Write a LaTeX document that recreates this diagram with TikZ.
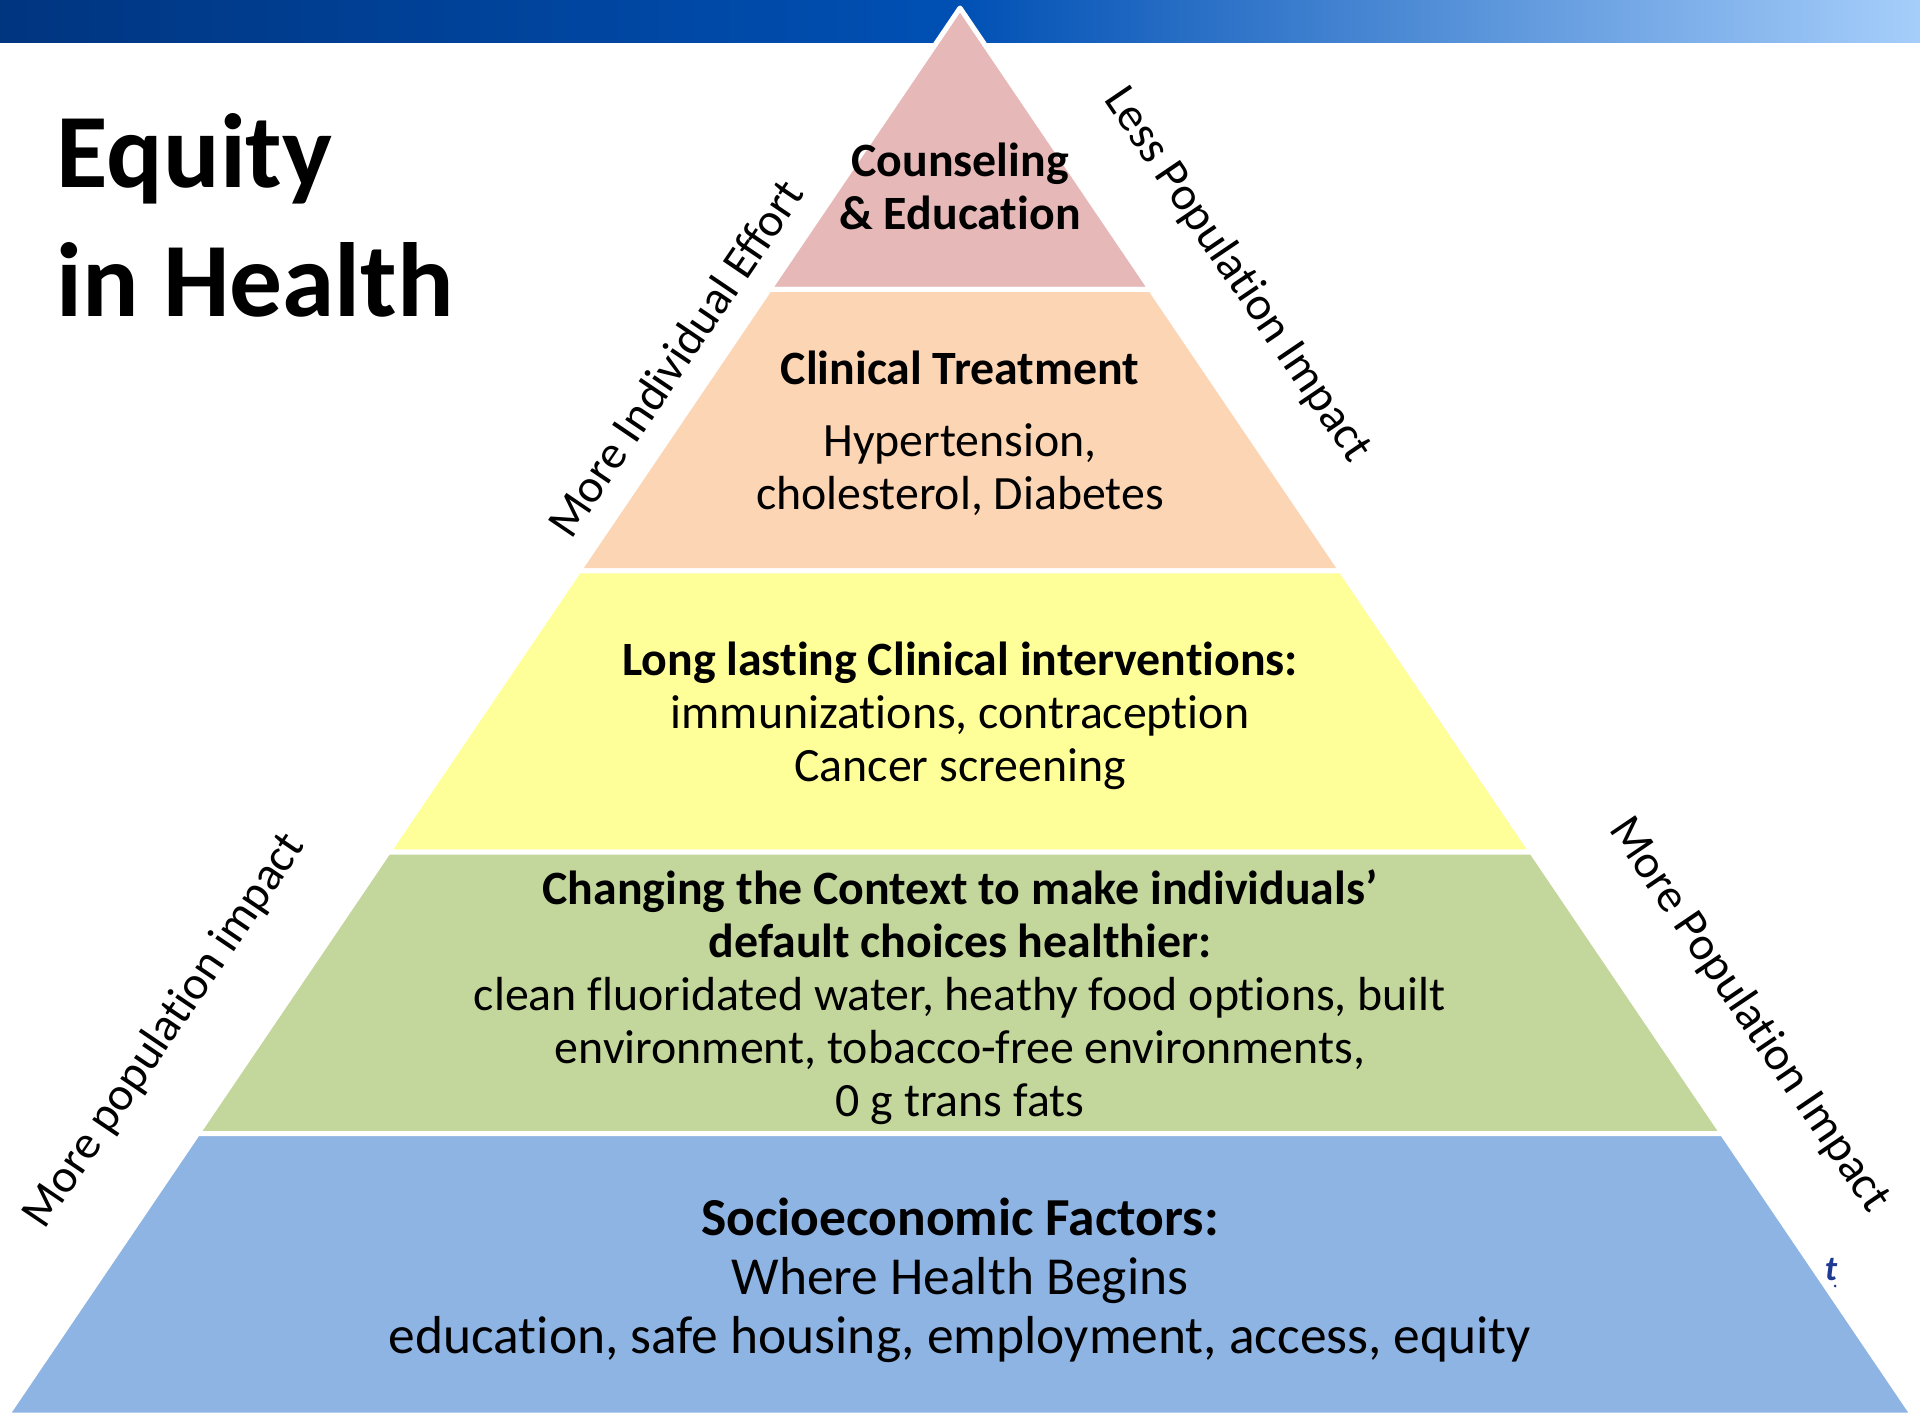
\documentclass[tikz,border=0pt]{standalone}
\usepackage{fontspec}
\setmainfont{Carlito}[Ligatures={NoCommon}]
\definecolor{pinkL}{HTML}{E6B9B8}
\definecolor{orangeL}{HTML}{FCD5B5}
\definecolor{yellowL}{HTML}{FFFF99}
\definecolor{greenL}{HTML}{C3D69B}
\definecolor{blueL}{HTML}{8EB4E3}
\definecolor{barL}{HTML}{003580}
\definecolor{barM}{HTML}{0050B4}
\definecolor{barR}{HTML}{A6CEFB}
\definecolor{glyphblue}{HTML}{1F3A93}
\tikzset{
  layer/.style={draw=white, line width=5pt*0.2845, line join=round},
  midtext/.style={align=center, font=\fontsize{13.6}{15.1}\selectfont, inner sep=0pt},
  bottext/.style={align=center, font=\fontsize{15.2}{16.8}\selectfont, inner sep=0pt},
  sidelabel/.style={font=\fontsize{13.4}{15}\selectfont, inner sep=0pt},
}
\begin{document}
\begin{tikzpicture}[x=0.01cm, y=-0.01cm]
\useasboundingbox (0,0) rectangle (1920,1418);
% top bar
\shade[left color=barL, right color=barR, middle color=barM] (0,0) rectangle (1920,42);
% pyramid corner coordinates
\coordinate (A)  at (960,8);
\coordinate (L1) at (769.4,289.4);  \coordinate (R1) at (1150.6,289.4);
\coordinate (L2) at (578.8,570.8);  \coordinate (R2) at (1341.2,570.8);
\coordinate (L3) at (388.2,852.2);  \coordinate (R3) at (1531.8,852.2);
\coordinate (L4) at (197.6,1133.6); \coordinate (R4) at (1722.4,1133.6);
\coordinate (L5) at (7,1415);       \coordinate (R5) at (1913,1415);
% layers
\filldraw[layer, fill=pinkL]   (A) -- (L1) -- (R1) -- cycle;
\filldraw[layer, fill=orangeL] (L1) -- (L2) -- (R2) -- (R1) -- cycle;
\filldraw[layer, fill=yellowL] (L2) -- (L3) -- (R3) -- (R2) -- cycle;
\filldraw[layer, fill=greenL]  (L3) -- (L4) -- (R4) -- (R3) -- cycle;
\filldraw[layer, fill=blueL]   (L4) -- (L5) -- (R5) -- (R4) -- cycle;
% title
\node[anchor=north west, align=left, inner sep=0pt, font=\fontsize{30}{36.6}\selectfont\bfseries]
  (title) at (56,113) {Equity\\in Health};
% layer texts
\node[midtext, font=\fontsize{13.6}{15.1}\selectfont\bfseries] (t1) at (960,186) {Counseling\\\& Education};
\node[midtext, font=\fontsize{13.6}{15.1}\selectfont\bfseries] (t2a) at (960,368) {Clinical Treatment};
\node[midtext] (t2b) at (960,470) {Hypertension,\\cholesterol, Diabetes};
\node[midtext] (t3) at (960,716) {\textbf{Long lasting Clinical interventions:}\\immunizations, contraception\\Cancer screening};
\node[midtext] (t4) at (960,997) {\textbf{Changing the Context to make individuals’}\\\textbf{default choices healthier:}\\clean fluoridated water, heathy food options, built\\environment, tobacco-free environments,\\0 g trans fats};
\node[bottext] (t5) at (960,1280) {\textbf{Socioeconomic Factors:}\\Where Health Begins\\education, safe housing, employment, access, equity};
% side labels
\node[sidelabel, rotate=55.9] (s1) at (675,358) {More Individual Effort};
\node[sidelabel, rotate=-55.9] (s2) at (1237,275) {Less Population Impact};
\node[sidelabel, rotate=55.9] (s3) at (165,1031) {More population impact};
\node[sidelabel, rotate=-55.9] (s4) at (1749,1015) {More Population Impact};
% stray glyph
\node[text=glyphblue, font=\fontsize{10}{11}\selectfont\bfseries\itshape, inner sep=0pt] (g) at (1831,1270) {t};
\fill[glyphblue] (1835,1286) circle (1.5);
\end{tikzpicture}
\end{document}
